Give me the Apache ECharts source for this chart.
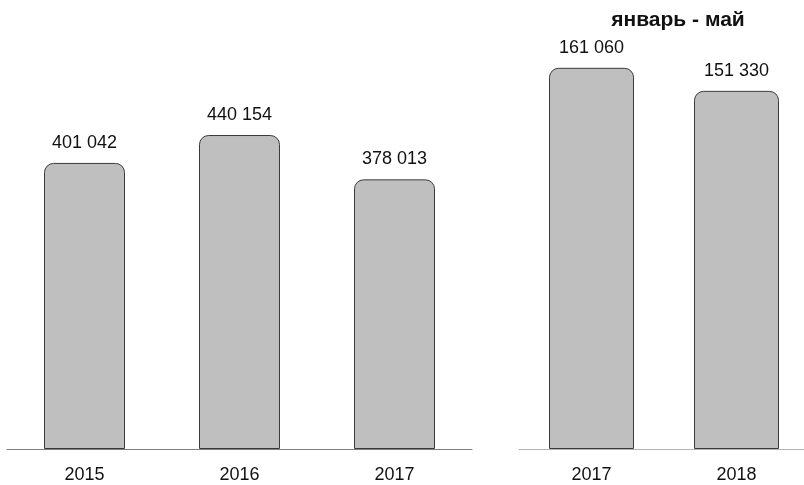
<!DOCTYPE html>
<html>
<head>
<meta charset="utf-8">
<script src="https://cdn.jsdelivr.net/npm/echarts@6/dist/echarts.min.js"></script>
<style>
  html, body { margin: 0; padding: 0; background: #fff; overflow: hidden; }
  /* slightly wider than the window: the right axis runs off the edge */
  #chart { width: 812px; height: 485px; }
</style>
</head>
<body>
<div id="chart"></div>
<script>
// ---------------------------------------------------
// Data
// ---------------------------------------------------
const yearYears = ["2015", "2016", "2017"];
const yearValues = [401042, 440154, 378013];

const partYears = ["2017", "2018"];
const partValues = [161060, 151330];
const partTitle = "январь - май";

// ---------------------------------------------------
// Helpers
// ---------------------------------------------------
const FONT = "Liberation Sans, Arial, sans-serif";
const fmt = v => String(v).replace(/\B(?=(\d{3})+(?!\d))/g, " ");

const barStyle = {
  color: "#bfbfbf",
  borderColor: "#3a3a3a",
  borderWidth: 1,
  borderRadius: [9, 9, 0, 0]
};

const labelStyle = {
  show: true,
  position: "top",
  distance: 11,
  color: "#111",
  fontSize: 18,
  fontFamily: FONT,
  formatter: p => fmt(p.value)
};

const catAxis = (idx, data, lineColor) => ({
  type: "category",
  gridIndex: idx,
  data: data,
  axisTick: { show: false },
  axisLine: { lineStyle: { color: lineColor, width: 1 } },
  axisLabel: {
    color: "#111",
    fontSize: 18,
    margin: 17,
    fontFamily: FONT
  }
});

const valAxis = (idx, max) => ({
  type: "value",
  gridIndex: idx,
  min: 0,
  max: max,
  show: false,
  splitLine: { show: false }
});

// ---------------------------------------------------
// Chart
// ---------------------------------------------------
const chart = echarts.init(document.getElementById("chart"));

chart.setOption({
  animation: false,
  title: {
    text: partTitle,
    left: 673,
    top: 5,
    textAlign: "center",
    textStyle: {
      fontSize: 21,
      fontWeight: "bold",
      color: "#111",
      fontFamily: FONT
    }
  },
  grid: [
    { left: 7, width: 465, top: 21, bottom: 36 },
    { left: 519, width: 290, top: 23, bottom: 36 }
  ],
  xAxis: [
    catAxis(0, yearYears, "#808080"),
    catAxis(1, partYears, "#b4b4b4")
  ],
  yAxis: [
    valAxis(0, 600000),
    valAxis(1, 180000)
  ],
  series: [
    {
      type: "bar",
      xAxisIndex: 0,
      yAxisIndex: 0,
      data: yearValues,
      barWidth: 81,
      itemStyle: barStyle,
      label: labelStyle
    },
    {
      type: "bar",
      xAxisIndex: 1,
      yAxisIndex: 1,
      data: partValues,
      barWidth: 85,
      itemStyle: barStyle,
      label: labelStyle
    }
  ]
});

window.addEventListener("resize", chart.resize);
</script>
</body>
</html>
